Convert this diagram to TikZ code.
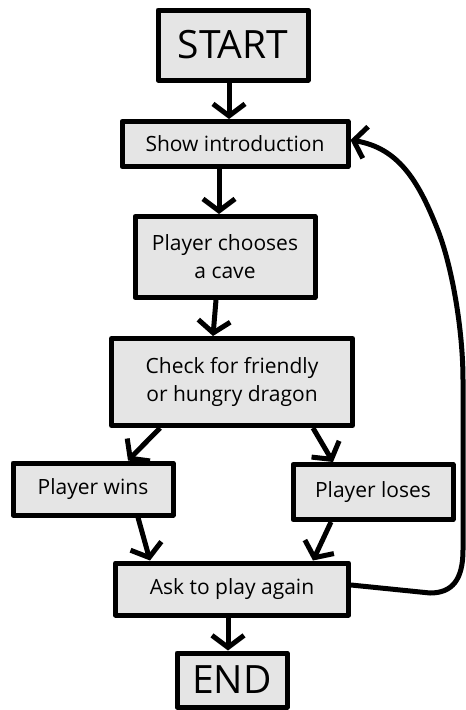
\documentclass[tikz,border=0pt]{standalone}
\usepackage{fontspec}
\setmainfont{Open Sans}
\usetikzlibrary{arrows.meta,positioning}

\begin{document}
\begin{tikzpicture}[
          x=1pt, y=-1pt,
          step-box/.style = {draw, line width=5pt, line join=round, fill=black!10, rectangle,
                             text centered, inner sep=0pt, font=\fontsize{21}{28}\selectfont},
          big-box/.style = {step-box, font=\fontsize{39}{39}\selectfont},
          flow/.style = {line width=5pt, line join=round,
                         -{Straight Barb[length=12pt,width=32pt,line width=5pt]}}
        ]
          \useasboundingbox (0,0) rectangle (466,710);

          \node[big-box, minimum width=150pt, minimum height=70pt] (start) at (233,45) {START};
          \node[step-box, minimum width=226pt, minimum height=45pt] (intro) at (235,144) {Show introduction};
          \node[step-box, minimum width=180pt, minimum height=81pt, align=center] (cave) at (225,257) {Player chooses\\a cave};
          \node[step-box, minimum width=241pt, minimum height=87pt, align=center] (check) at (232,382) {Check for friendly\\or hungry dragon};
          \node[step-box, minimum width=160pt, minimum height=52pt] (wins) at (93,489) {Player wins};
          \node[step-box, minimum width=160pt, minimum height=55pt] (loses) at (373,492) {Player loses};
          \node[step-box, minimum width=233pt, minimum height=52pt] (again) at (232,589) {Ask to play again};
          \node[big-box, minimum width=110pt, minimum height=54pt] (end) at (232,680) {END};

          \draw[flow] ([xshift=-4pt]start.south) -- ([xshift=-6pt]intro.north);
          \draw[flow] ([xshift=-16pt]intro.south) -- ([xshift=-6pt]cave.north);
          \draw[flow] ([xshift=-9pt]cave.south) -- ([xshift=-19pt]check.north);
          \draw[flow] ([xshift=-72pt]check.south) -- ([xshift=35pt]wins.north);
          \draw[flow] ([xshift=81pt]check.south) -- ([xshift=-40pt]loses.north);
          \draw[flow] ([xshift=45pt]wins.south) -- ([xshift=-82pt]again.north);
          \draw[flow] ([xshift=-42pt]loses.south) -- ([xshift=81pt]again.north);
          \draw[flow] ([xshift=-4pt]again.south) -- ([xshift=-4pt]end.north);

          % play again loop
          \draw[flow] ([yshift=4pt]again.east) -- (430,593)
            .. controls (452,593) and (463,580) .. (463,550) -- (463,380)
            .. controls (463,330) and (452,265) .. (437,228)
            .. controls (418,180) and (398,148) .. ([yshift=4pt]intro.east);
        \end{tikzpicture}
\end{document}
